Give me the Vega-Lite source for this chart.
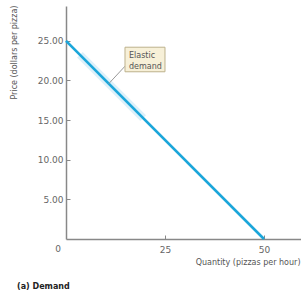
{
  "$schema": "https://vega.github.io/schema/vega-lite/v6.json",
  "width": 235,
  "height": 233,
  "autosize": {"type": "none"},
  "padding": {"left": 66, "top": 6, "right": 0, "bottom": 57},
  "background": "white",
  "config": {"view": {"stroke": null}, "font": "DejaVu Sans"},
  "title": {"text": "(a) Demand", "orient": "bottom", "anchor": "start", "frame": "group", "dx": -49, "offset": 17, "fontSize": 8, "fontWeight": "bold", "color": "#222"},
  "datasets": {
    "demand": [{"q": 0, "p": 25}, {"q": 50, "p": 0}],
    "band": [{"q": 3.5, "p": 23.25}, {"q": 19.5, "p": 15.25}],
    "leader": [{"q": 10.8, "p": 19.6, "q2": 14.9, "p2": 21.8}],
    "box": [{"q": 14.9, "p": 24.2, "q2": 25.0, "p2": 21.1}],
    "boxtext": [{"q": 15.9, "p": 23.1, "t": "Elastic"}, {"q": 15.9, "p": 21.7, "t": "demand"}],
    "origin": [{"q": 0, "p": 0, "t": "0"}]
  },
  "layer": [
    {
      "data": {"name": "band"},
      "mark": {"type": "line", "color": "#cdeaf8", "strokeWidth": 8, "opacity": 0.7},
      "encoding": {
        "x": {"field": "q", "type": "quantitative", "scale": {"domain": [0, 59.35], "nice": false},
          "axis": {"title": "Quantity (pizzas per hour)", "values": [25, 50], "grid": false, "domainColor": "#888", "domainWidth": 1.5, "tickColor": "#888", "tickSize": -4, "tickWidth": 1, "labelPadding": 10, "labelFontSize": 9, "labelColor": "#666", "titleFontSize": 8, "titleFontWeight": "normal", "titleColor": "#555", "titleX": 234, "titleY": 23, "titleAlign": "right", "titleBaseline": "middle", "titleAnchor": null}},
        "y": {"field": "p", "type": "quantitative", "scale": {"domain": [0, 29.4], "nice": false},
          "axis": {"title": "Price (dollars per pizza)", "values": [5, 10, 15, 20, 25], "format": ".2f", "grid": false, "domainColor": "#888", "domainWidth": 1.5, "tickColor": "#888", "tickSize": -4, "tickWidth": 1, "labelPadding": 7, "labelFontSize": 9, "labelColor": "#666", "titleFontSize": 8, "titleFontWeight": "normal", "titleColor": "#555", "titleX": -52, "titleY": -1, "titleAngle": -90, "titleAlign": "right", "titleBaseline": "middle", "titleAnchor": null}}
      }
    },
    {
      "data": {"name": "demand"},
      "mark": {"type": "line", "color": "#1ba6da", "strokeWidth": 2.6, "clip": false},
      "encoding": {
        "x": {"field": "q", "type": "quantitative"},
        "y": {"field": "p", "type": "quantitative"}
      }
    },
    {
      "data": {"name": "leader"},
      "mark": {"type": "rule", "color": "#999", "strokeWidth": 1},
      "encoding": {
        "x": {"field": "q", "type": "quantitative"},
        "y": {"field": "p", "type": "quantitative"},
        "x2": {"field": "q2"},
        "y2": {"field": "p2"}
      }
    },
    {
      "data": {"name": "box"},
      "mark": {"type": "rect", "fill": "#f7f0d8", "stroke": "#bdb28c", "strokeWidth": 1},
      "encoding": {
        "x": {"field": "q", "type": "quantitative"},
        "y": {"field": "p", "type": "quantitative"},
        "x2": {"field": "q2"},
        "y2": {"field": "p2"}
      }
    },
    {
      "data": {"name": "boxtext"},
      "mark": {"type": "text", "align": "left", "baseline": "middle", "fontSize": 8, "color": "#555"},
      "encoding": {
        "x": {"field": "q", "type": "quantitative"},
        "y": {"field": "p", "type": "quantitative"},
        "text": {"field": "t"}
      }
    },
    {
      "data": {"name": "origin"},
      "mark": {"type": "text", "align": "center", "baseline": "middle", "fontSize": 9, "color": "#666", "dx": -8, "dy": 10},
      "encoding": {
        "x": {"field": "q", "type": "quantitative"},
        "y": {"field": "p", "type": "quantitative"},
        "text": {"field": "t"}
      }
    }
  ]
}
